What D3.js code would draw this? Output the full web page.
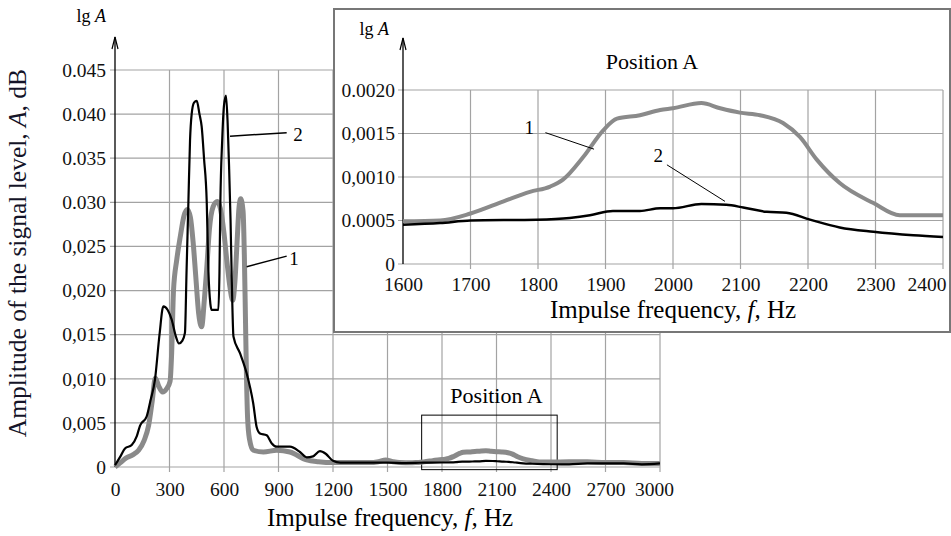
<!DOCTYPE html>
<html>
<head>
<meta charset="utf-8">
<script src="https://cdn.jsdelivr.net/npm/d3@7"></script>
<style>
  body { margin: 0; background: #fff; }
  svg, svg text { font-family: "Liberation Serif", "Tinos", "Times New Roman", Times, "DejaVu Serif", serif !important; }
</style>
</head>
<body>
<script>
// ---- data ----
// curve 1 (grey, thick)
var freq1 = [0, 30, 60, 100, 130, 160, 185, 205, 222, 240, 262, 285, 303, 312, 322, 340, 360, 380, 398, 415, 430, 445, 460, 477, 492, 505, 520, 540, 563, 580, 600, 615, 632, 648, 660, 672, 683, 692, 705, 712, 718, 724, 730, 740, 761, 817, 890, 963, 1055, 1120, 1200, 1300, 1400, 1450, 1490, 1530, 1565,
  1600, 1655, 1700, 1749, 1788, 1818, 1837, 1867, 1897, 1917, 1951, 1981, 2000, 2042, 2070, 2099, 2129, 2163, 2188, 2213, 2247, 2297, 2336, 2400,
  2500, 2600, 2700, 2800, 2900, 3000];
var amp1 = [0, 0.0005, 0.001, 0.0014, 0.0019, 0.003, 0.0047, 0.0075, 0.0101, 0.0092, 0.0085, 0.0089, 0.0097, 0.013, 0.020, 0.0235, 0.0262, 0.0285, 0.0292, 0.0283, 0.0255, 0.0215, 0.0175, 0.0159, 0.019, 0.0225, 0.027, 0.0295, 0.0301, 0.0293, 0.0265, 0.0235, 0.0205, 0.0189, 0.021, 0.0255, 0.0295, 0.0304, 0.029, 0.024, 0.017, 0.010, 0.0055, 0.0032, 0.0019, 0.0017, 0.0019, 0.0017, 0.0008, 0.0006, 0.0005, 0.0005, 0.0005, 0.0006, 0.0008, 0.0006, 0.0005,
  0.00049, 0.0005, 0.00058, 0.00072, 0.00083, 0.00089, 0.00097, 0.00123, 0.00154, 0.00167, 0.00171, 0.00177, 0.00179, 0.00185, 0.00179, 0.00174, 0.00171, 0.00162, 0.00146, 0.0012, 0.00093, 0.0007, 0.00056, 0.00056,
  0.0006, 0.0006, 0.0005, 0.0005, 0.0004, 0.0004];

// curve 2 (black, thin)
var freq2 = [0, 30, 55, 92, 120, 138, 174, 195, 220, 245, 266, 290, 312, 335, 352, 370, 385, 394, 404, 413, 422, 435, 450, 465, 477, 490, 505, 514, 525, 532, 569, 575, 580, 590, 600, 611, 620, 628, 636, 643, 652, 688, 725, 761, 780, 798, 835, 862, 890, 963, 1018, 1055, 1090, 1128, 1160, 1200, 1240, 1300, 1400, 1500,
  1600, 1655, 1700, 1798, 1847, 1877, 1911, 1951, 1981, 2000, 2042, 2079, 2104, 2139, 2168, 2203, 2247, 2297, 2356, 2400,
  2500, 2600, 2700, 2800, 2900, 3000];
var amp2 = [0.0002, 0.0012, 0.0021, 0.0025, 0.0035, 0.0047, 0.0057, 0.0075, 0.0099, 0.015, 0.0182, 0.0178, 0.0167, 0.0148, 0.014, 0.0143, 0.0152, 0.0223, 0.030, 0.037, 0.040, 0.0413, 0.0415, 0.040, 0.0386, 0.035, 0.030, 0.0223, 0.0185, 0.0178, 0.0178, 0.022, 0.030, 0.037, 0.041, 0.0421, 0.039, 0.034, 0.028, 0.021, 0.0148, 0.0129, 0.0106, 0.0072, 0.0045, 0.0038, 0.0036, 0.0027, 0.0023, 0.0023, 0.0017, 0.0011, 0.0012, 0.0018, 0.0015, 0.0007, 0.0005, 0.0005, 0.0005, 0.0005,
  0.00045, 0.00047, 0.0005, 0.00051, 0.00053, 0.00056, 0.00061, 0.00061, 0.00064, 0.00064, 0.00069, 0.00068, 0.00065, 0.0006, 0.00059, 0.00051, 0.00042, 0.00037, 0.00033, 0.00031,
  0.0003, 0.0004, 0.0004, 0.0004, 0.0003, 0.0004];

// tick labels
var mainXTicks = [0, 300, 600, 900, 1200, 1500, 1800, 2100, 2400, 2700, 3000];
var mainYTicks = [0, 0.005, 0.010, 0.015, 0.020, 0.025, 0.030, 0.035, 0.040, 0.045];
var mainYLabels = ["0", "0,005", "0,010", "0,015", "0,020", "0,025", "0.030", "0.035", "0.040", "0.045"];
var insetXTicks = [1600, 1700, 1800, 1900, 2000, 2100, 2200, 2300, 2400];
var insetYTicks = [0, 0.0005, 0.0010, 0.0015, 0.0020];
var insetYLabels = ["0", "0.0005", "0,0010", "0,0015", "0.0020"];

// Position A window in the main chart (Hz, amplitude)
var posA = { f0: 1688, f1: 2434, a0: -0.0003, a1: 0.00588 };

function toPoints(fs, as) { return fs.map(function(f, i) { return { f: f, a: as[i] }; }); }
var curve1 = toPoints(freq1, amp1), curve2 = toPoints(freq2, amp2);

var svg = d3.select('body').append('svg')
  .attr('width', 951)
  .attr('height', 536);

var grid_col = '#a3a3a3', grey_col = '#8a8a8a';

// ---------- main chart ----------
var x = d3.scaleLinear().domain([0, 3000]).range([115, 660]);
var y = d3.scaleLinear().domain([0, 0.045]).range([467, 70]);

var main = svg.append('g').attr('id', 'main');

// grid
main.selectAll('.vgrid').data(mainXTicks.slice(1)).enter().append('line')
  .attr('x1', d => x(d)).attr('x2', d => x(d))
  .attr('y1', y(0) + 5).attr('y2', y(0.045))
  .attr('stroke', grid_col).attr('stroke-width', 1.2);
main.selectAll('.hgrid').data(mainYTicks).enter().append('line')
  .attr('x1', x(0) - 5).attr('x2', x(3000))
  .attr('y1', d => y(d)).attr('y2', d => y(d))
  .attr('stroke', grid_col).attr('stroke-width', 1.2);

// axes (labels only)
var xa = main.append('g').attr('transform', 'translate(0,' + y(0) + ')')
  .call(d3.axisBottom(x).tickValues(mainXTicks).tickFormat(d3.format('d')).tickSize(0).tickPadding(15));
var ya = main.append('g').attr('transform', 'translate(' + x(0) + ',0)')
  .call(d3.axisLeft(y).tickValues(mainYTicks).tickFormat((d, i) => mainYLabels[i]).tickSize(0).tickPadding(9));
[xa, ya].forEach(function(g) {
  g.attr('font-family', null);
  g.select('.domain').remove();
  g.selectAll('text').attr('font-size', 19.5).attr('fill', '#111');
});
xa.selectAll('text').filter(d => d === 3000).attr('dx', -6);

// y axis line with arrow
main.append('line').attr('x1', x(0)).attr('x2', x(0)).attr('y1', y(0)).attr('y2', 37)
  .attr('stroke', '#000').attr('stroke-width', 1.3);
main.append('path').attr('d', 'M' + (x(0) - 3) + ',49 L' + x(0) + ',37 L' + (x(0) + 3) + ',49')
  .attr('fill', 'none').attr('stroke', '#000').attr('stroke-width', 1.2);
var lg1 = main.append('text').attr('x', 106).attr('y', 22).attr('text-anchor', 'end').attr('font-size', 18);
lg1.append('tspan').text('lg ');
lg1.append('tspan').attr('font-style', 'italic').text('A');

// Position A box
main.append('rect')
  .attr('x', x(posA.f0)).attr('y', y(posA.a1))
  .attr('width', x(posA.f1) - x(posA.f0)).attr('height', y(posA.a0) - y(posA.a1))
  .attr('fill', 'none').attr('stroke', '#000').attr('stroke-width', 1);
main.append('text').text('Position A')
  .attr('x', x(2100)).attr('y', y(0.0080) + 7)
  .attr('text-anchor', 'middle').attr('font-size', 22);

// curves
var mainLine = d3.line().x(d => x(d.f)).y(d => y(d.a)).curve(d3.curveMonotoneX);
main.append('path').datum(curve1).attr('d', mainLine)
  .attr('fill', 'none').attr('stroke', grey_col).attr('stroke-width', 5).attr('stroke-linejoin', 'round');
main.append('path').datum(curve2).attr('d', mainLine)
  .attr('fill', 'none').attr('stroke', '#000').attr('stroke-width', 2.2).attr('stroke-linejoin', 'round');

// curve labels
var mainNotes = [
  { name: '2', tf: 1007, ta: 0.0377, f0: 633, a0: 0.0375, f1: 945, a1: 0.0379 },
  { name: '1', tf: 985, ta: 0.0237, f0: 725, a0: 0.0227, f1: 945, a1: 0.0239 }
];
mainNotes.forEach(function(n) {
  main.append('line').attr('x1', x(n.f0)).attr('y1', y(n.a0)).attr('x2', x(n.f1)).attr('y2', y(n.a1))
    .attr('stroke', '#000').attr('stroke-width', 1.5);
  main.append('text').text(n.name).attr('x', x(n.tf)).attr('y', y(n.ta) + 7)
    .attr('text-anchor', 'middle').attr('font-size', 19);
});

// axis titles
var mxt = main.append('text').attr('x', 390).attr('y', 526).attr('text-anchor', 'middle').attr('font-size', 25);
mxt.append('tspan').text('Impulse frequency, ');
mxt.append('tspan').attr('font-style', 'italic').text('f,');
mxt.append('tspan').text(' Hz');

var myt = main.append('text').attr('transform', 'translate(26,253) rotate(-90)')
  .attr('text-anchor', 'middle').attr('font-size', 25.5).attr('fill', '#141428');
myt.append('tspan').text('Amplitude of the signal level, ');
myt.append('tspan').attr('font-style', 'italic').text('A');
myt.append('tspan').text(', dB');

// ---------- inset (Position A) ----------
var ix = d3.scaleLinear().domain([1600, 2400]).range([403, 943]);
var iy = d3.scaleLinear().domain([0, 0.002]).range([264, 90]);

var inset = svg.append('g').attr('id', 'inset');
inset.append('rect').attr('x', 334).attr('y', 9).attr('width', 616).attr('height', 323)
  .attr('fill', '#fff').attr('stroke', '#777').attr('stroke-width', 2);

inset.selectAll('.vgrid').data(insetXTicks.slice(1)).enter().append('line')
  .attr('x1', d => ix(d)).attr('x2', d => ix(d))
  .attr('y1', iy(0) + 5).attr('y2', iy(0.002))
  .attr('stroke', grid_col).attr('stroke-width', 1.2);
inset.selectAll('.hgrid').data(insetYTicks).enter().append('line')
  .attr('x1', ix(1600) - 5).attr('x2', ix(2400))
  .attr('y1', d => iy(d)).attr('y2', d => iy(d))
  .attr('stroke', grid_col).attr('stroke-width', 1.2);

var ixa = inset.append('g').attr('transform', 'translate(0,' + iy(0) + ')')
  .call(d3.axisBottom(ix).tickValues(insetXTicks).tickFormat(d3.format('d')).tickSize(0).tickPadding(13));
var iya = inset.append('g').attr('transform', 'translate(' + ix(1600) + ',0)')
  .call(d3.axisLeft(iy).tickValues(insetYTicks).tickFormat((d, i) => insetYLabels[i]).tickSize(0).tickPadding(8));
[ixa, iya].forEach(function(g) {
  g.attr('font-family', null);
  g.select('.domain').remove();
  g.selectAll('text').attr('font-size', 19.5).attr('fill', '#111');
});
ixa.selectAll('text').filter(d => d === 2400).attr('text-anchor', 'end').attr('dx', 3);

inset.append('line').attr('x1', ix(1600)).attr('x2', ix(1600)).attr('y1', iy(0)).attr('y2', 38)
  .attr('stroke', '#000').attr('stroke-width', 1.3);
inset.append('path').attr('d', 'M' + (ix(1600) - 3) + ',50 L' + ix(1600) + ',38 L' + (ix(1600) + 3) + ',50')
  .attr('fill', 'none').attr('stroke', '#000').attr('stroke-width', 1.2);
var lg2 = inset.append('text').attr('x', 389).attr('y', 35).attr('text-anchor', 'end').attr('font-size', 18);
lg2.append('tspan').text('lg ');
lg2.append('tspan').attr('font-style', 'italic').text('A');

inset.append('text').text('Position A').attr('x', 652).attr('y', 69)
  .attr('text-anchor', 'middle').attr('font-size', 22);

var inRange = d => d.f >= 1600 && d.f <= 2400;
var insetLine = d3.line().x(d => ix(d.f)).y(d => iy(d.a)).curve(d3.curveMonotoneX);
inset.append('path').datum(curve1.filter(inRange)).attr('d', insetLine)
  .attr('fill', 'none').attr('stroke', grey_col).attr('stroke-width', 4).attr('stroke-linejoin', 'round');
inset.append('path').datum(curve2.filter(inRange)).attr('d', insetLine)
  .attr('fill', 'none').attr('stroke', '#000').attr('stroke-width', 2.5).attr('stroke-linejoin', 'round');

var insetNotes = [
  { name: '1', tf: 1787, ta: 0.00157, f0: 1811, a0: 0.00151, f1: 1883, a1: 0.00132 },
  { name: '2', tf: 1978, ta: 0.00125, f0: 1991, a0: 0.00114, f1: 2077, a1: 0.00072 }
];
insetNotes.forEach(function(n) {
  inset.append('line').attr('x1', ix(n.f0)).attr('y1', iy(n.a0)).attr('x2', ix(n.f1)).attr('y2', iy(n.a1))
    .attr('stroke', '#000').attr('stroke-width', 1);
  inset.append('text').text(n.name).attr('x', ix(n.tf)).attr('y', iy(n.ta) + 7)
    .attr('text-anchor', 'middle').attr('font-size', 19);
});

var ixt = inset.append('text').attr('x', 673).attr('y', 318).attr('text-anchor', 'middle').attr('font-size', 25);
ixt.append('tspan').text('Impulse frequency, ');
ixt.append('tspan').attr('font-style', 'italic').text('f,');
ixt.append('tspan').text(' Hz');
</script>
</body>
</html>
